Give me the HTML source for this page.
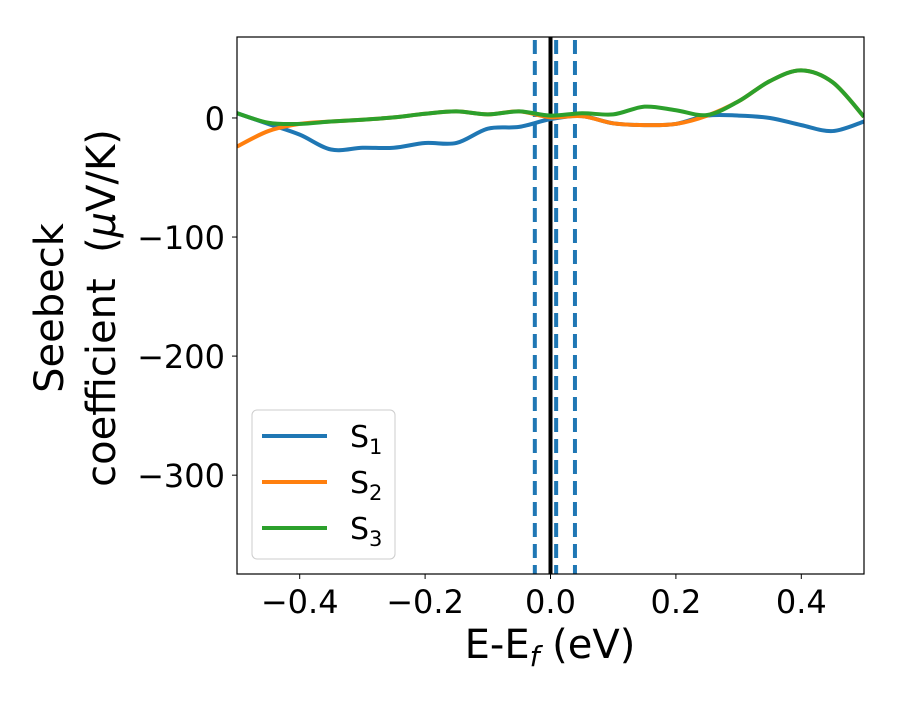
<!DOCTYPE html>
<html><head><meta charset="utf-8"><style>
body{margin:0;background:#fff;}
svg text{font-family:"DejaVu Sans","Liberation Sans",sans-serif;fill:#000;}
</style></head><body>
<svg width="900" height="700" viewBox="0 0 900 700">
<rect width="900" height="700" fill="#fff"/>
<defs><clipPath id="pc"><rect x="237" y="37" width="627" height="537"/></clipPath></defs>
<g id="vlines" clip-path="url(#pc)"></g>
<g id="series" clip-path="url(#pc)"></g>
<rect x="237" y="37" width="627" height="537" fill="none" stroke="#000" stroke-width="1.2"/>
<g id="xticks"></g><g id="yticks"></g>
<text x="550" y="658" font-size="40" text-anchor="middle">E-E<tspan font-size="28" dy="8" font-style="italic">f</tspan><tspan dy="-8"> (eV)</tspan></text>
<text transform="translate(63,308) rotate(-90)" font-size="40" text-anchor="middle">Seebeck</text>
<text transform="translate(115,308) rotate(-90)" font-size="40" text-anchor="middle">coefficient&#160;&#160;(<tspan font-style="italic">μ</tspan>V/K)</text>
<g>
<rect x="252" y="410" width="143" height="149" rx="5" fill="#fff" fill-opacity="0.8" stroke="#ccc" stroke-width="1"/>
<line x1="262" y1="436" x2="327" y2="436" stroke="#1f77b4" stroke-width="4"/>
<text x="350" y="447" font-size="30">S<tspan font-size="21" dy="7">1</tspan></text>
<line x1="262" y1="482" x2="327" y2="482" stroke="#ff7f0e" stroke-width="4"/>
<text x="350" y="493" font-size="30">S<tspan font-size="21" dy="7">2</tspan></text>
<line x1="262" y1="528" x2="327" y2="528" stroke="#2ca02c" stroke-width="4"/>
<text x="350" y="539" font-size="30">S<tspan font-size="21" dy="7">3</tspan></text>
</g>
</svg>
<script>
const energies=[-0.5,-0.45,-0.4,-0.35,-0.3,-0.25,-0.2,-0.15,-0.1,-0.05,0,0.05,0.1,0.15,0.2,0.25,0.3,0.35,0.4,0.45,0.5];
const s1=[4,-5,-14,-26.5,-25,-25,-21,-21,-9,-7.5,-1,1.5,-4.5,-6,-5,2,2,0,-6,-11,-3];
const s2=[-24,-11,-5,-3,-1.5,0.5,3.5,5.5,3,5.5,0.6,1.5,-4.5,-6,-5,2,14,31,40,30,1];
const s3=[4,-4,-5,-3,-1.5,0.5,3.5,5.5,3,5.5,2,4,3,9.5,6.5,2.5,14,31,40,30,1];
const xTicks=[-0.4,-0.2,0.0,0.2,0.4];
const xTickLabels=["−0.4","−0.2","0.0","0.2","0.4"];
const yTicks=[0,-100,-200,-300];
const yTickLabels=["0","−100","−200","−300"];
const dashedE=[-0.025,0.009,0.039];
const fermiE=[0];
const NS='http://www.w3.org/2000/svg';
const X0=237,X1=864,Y0=37,Y1=574,xmin=-0.5,xmax=0.5,ymin=-383,ymax=68;
const xs=v=>X0+(v-xmin)/(xmax-xmin)*(X1-X0);
const ys=v=>Y1-(v-ymin)/(ymax-ymin)*(Y1-Y0);
function mk(t,a,p){const e=document.createElementNS(NS,t);for(const k in a)e.setAttribute(k,a[k]);p.appendChild(e);return e;}
function smooth(pts){let d='M'+pts[0][0]+','+pts[0][1];for(let i=0;i<pts.length-1;i++){const p0=pts[Math.max(0,i-1)],p1=pts[i],p2=pts[i+1],p3=pts[Math.min(pts.length-1,i+2)];
d+=' C'+(p1[0]+(p2[0]-p0[0])/6)+','+(p1[1]+(p2[1]-p0[1])/6)+' '+(p2[0]-(p3[0]-p1[0])/6)+','+(p2[1]-(p3[1]-p1[1])/6)+' '+p2[0]+','+p2[1];}return d;}
const sg=document.getElementById('series');
[[s1,'#1f77b4','series-s1'],[s2,'#ff7f0e','series-s2'],[s3,'#2ca02c','series-s3']].forEach(([vals,c,n])=>{
const p=mk('path',{d:smooth(energies.map((e,i)=>[xs(e),ys(vals[i])])),fill:'none',stroke:c,'stroke-width':4,'stroke-linejoin':'round'},sg);

});
const vg=document.getElementById('vlines');
dashedE.forEach((e,i)=>{const l=mk('line',{x1:xs(e),x2:xs(e),y1:Y0,y2:Y1,stroke:'#1f77b4','stroke-width':4,'stroke-dasharray':'14 7',transform:'translate(0,3)'},vg);

});
fermiE.forEach(e=>{const l=mk('line',{x1:xs(e),x2:xs(e),y1:Y0,y2:Y1,stroke:'#000','stroke-width':4},vg);

});
const xg=document.getElementById('xticks');
xTicks.forEach((v,i)=>{mk('line',{x1:xs(v),x2:xs(v),y1:Y1,y2:Y1+5,stroke:'#000','stroke-width':1},xg);
const t=mk('text',{x:xs(v),y:613,'font-size':32,'text-anchor':'middle'},xg);t.textContent=xTickLabels[i];

});
const yg=document.getElementById('yticks');
yTicks.forEach((v,i)=>{mk('line',{x1:X0-5,x2:X0,y1:ys(v),y2:ys(v),stroke:'#000','stroke-width':1},yg);
const t=mk('text',{x:225,y:ys(v)+12,'font-size':32,'text-anchor':'end'},yg);t.textContent=yTickLabels[i];

});
</script>
</body></html>
